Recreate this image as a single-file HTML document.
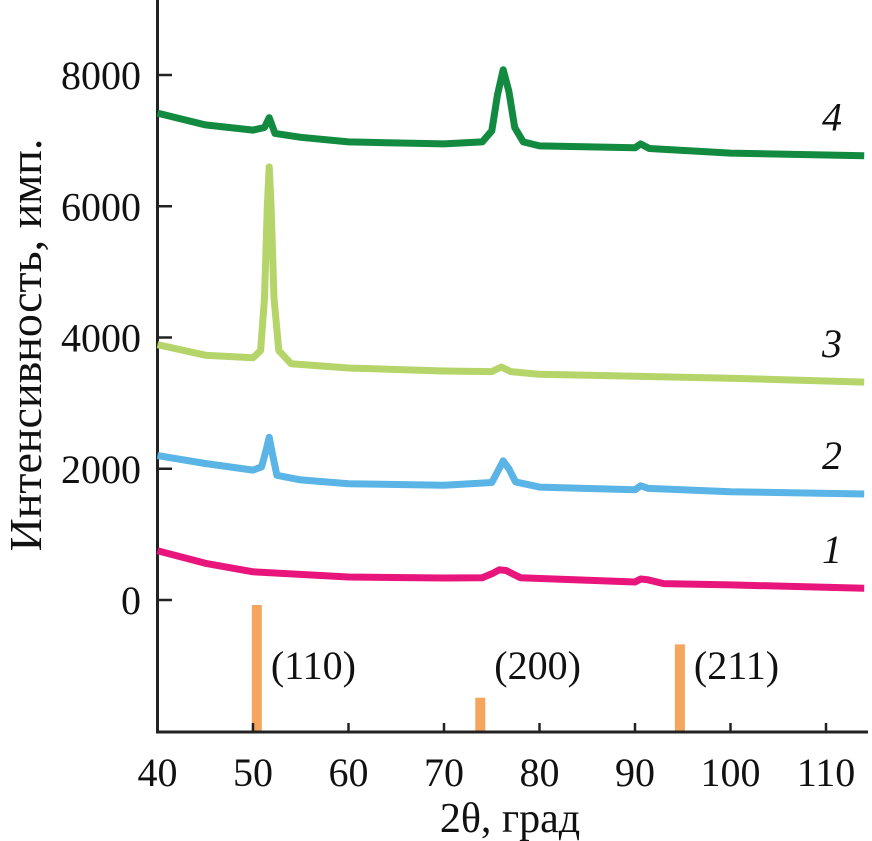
<!DOCTYPE html>
<html><head><meta charset="utf-8"><style>
body{margin:0;background:#fff}
svg{display:block;font-family:"Liberation Serif",serif}
</style></head><body>
<svg id="chart" width="872" height="841" viewBox="0 0 872 841"></svg>
<script>
const xTicks=[40,50,60,70,80,90,100,110];
const yTicks=[0,2000,4000,6000,8000];
const s1x=[40,45,50,60,70,74,75,75.8,76.5,77.3,78,90,90.6,91.3,93,100,114];
const s1y=[750,560,430,350,335,340,400,460,450,390,340,275,320,310,250,230,180];
const s2x=[40,45,50,50.9,51.4,51.7,52,52.5,55,60,70,75,75.7,76.2,76.8,77.5,80,90,90.6,91.4,100,114];
const s2y=[2200,2080,1980,2030,2300,2480,2250,1900,1830,1770,1750,1790,1980,2120,2000,1800,1720,1680,1740,1700,1650,1615];
const s3x=[40,45,50,50.8,51.2,51.5,51.7,51.9,52.2,52.7,54,60,70,75,76,77,80,100,114];
const s3y=[3890,3730,3690,3800,4600,6000,6600,6000,4600,3800,3600,3535,3490,3480,3550,3480,3440,3380,3320];
const s4x=[40,45,50,51.2,51.7,52.3,55,60,70,74,75,75.6,76.2,76.8,77.4,78.3,80,90,90.6,91.5,100,114];
const s4y=[7420,7240,7160,7200,7350,7110,7050,6980,6950,6980,7150,7700,8080,7750,7200,6980,6920,6890,6950,6880,6810,6770];
const refX=[50.4,73.8,94.7];
const refH=[100,27,69];
const refLabels=["(110)","(200)","(211)"];
const seriesLabels=["1","2","3","4"];
const X=v=>157.5+(v-40)*9.55;
const Y=v=>600-v*0.065625;
const NS="http://www.w3.org/2000/svg";
const svg=document.getElementById('chart');
function mk(t,a,p){const e=document.createElementNS(NS,t);for(const k in a)e.setAttribute(k,a[k]);(p||svg).appendChild(e);return e;}
refX.forEach((v,i)=>{
 const h=refH[i]*1.27;
 const b=mk('rect',{x:X(v)-5,y:732-h,width:10,height:h,fill:'#f6a55f'});
 
 
 const t=mk('text',{x:X(v)+14,y:679,'font-size':40,fill:'#111'});
 t.textContent=refLabels[i];
 
 
});
const ax=mk('path',{d:'M157.5 0V732H868',stroke:'#222','stroke-width':3,fill:'none'});


xTicks.forEach(v=>{
 const l=mk('line',{x1:X(v),x2:X(v),y1:732,y2:723,stroke:'#222','stroke-width':2.5});
 
 
 const t=mk('text',{x:X(v),y:786,'font-size':40,'text-anchor':'middle',fill:'#111'});
 t.textContent=v;
 
 
});
yTicks.forEach(v=>{
 const l=mk('line',{x1:157.5,x2:172,y1:Y(v),y2:Y(v),stroke:'#222','stroke-width':2.5});
 
 
 const t=mk('text',{x:141,y:Y(v)+14,'font-size':40,'text-anchor':'end',fill:'#111'});
 t.textContent=v;
 
 
});
const cols=['#e8157c','#5ab4e5','#b5d56a','#128a3f'];
[[s1x,s1y],[s2x,s2y],[s3x,s3y],[s4x,s4y]].forEach((s,i)=>{
 const d=s[0].map((v,j)=>(j?'L':'M')+X(v).toFixed(1)+' '+Y(s[1][j]).toFixed(1)).join('');
 const p=mk('path',{d:d,stroke:cols[i],'stroke-width':7,fill:'none','stroke-linejoin':'round'});
 
 
 const yl=s[1][s[1].length-1];
 const t=mk('text',{x:822,y:Y(yl)-25,'font-size':40,'font-style':'italic',fill:'#111'});
 t.textContent=seriesLabels[i];
 
 
});
const xt=mk('text',{x:510,y:832,'font-size':42,'text-anchor':'middle',fill:'#111'});
xt.textContent='2θ, град';


const yt=mk('text',{x:0,y:0,'font-size':46,'text-anchor':'middle',fill:'#111',transform:'translate(41 345) rotate(-90)'});
yt.textContent='Интенсивность, имп.';


</script>
</body></html>
